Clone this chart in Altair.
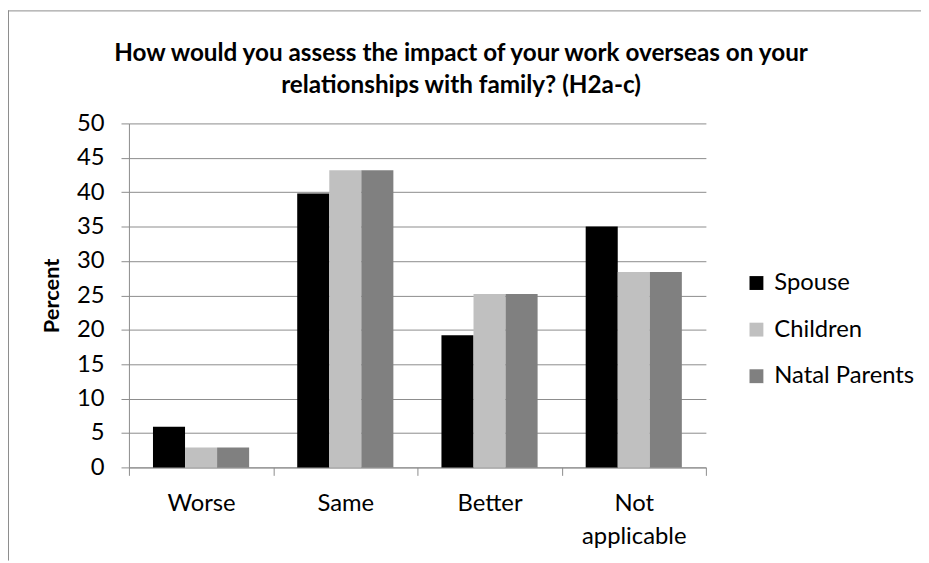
import altair as alt
import pandas as pd

categories = ["Worse", "Same", "Better", "Not applicable"]
series = ["Spouse", "Children", "Natal Parents"]
spouse = [5.9, 39.8, 19.2, 35.0]
children = [2.9, 43.2, 25.2, 28.4]
natal_parents = [2.9, 43.2, 25.2, 28.4]
colors = ["#000000", "#C0C0C0", "#808080"]
y_ticks = [0, 5, 10, 15, 20, 25, 30, 35, 40, 45, 50]
title_lines = ["How would you assess the impact of your work overseas on your",
               "relationships with family? (H2a-c)"]

rows = []
for name, vals in zip(series, [spouse, children, natal_parents]):
    for c, v in zip(categories, vals):
        rows.append({"category": c, "series": name, "value": v})
df = pd.DataFrame(rows)

FONT = "Lato"
GRID = "#8C8C8C"
FS = 24

bars = alt.Chart(df).mark_bar().encode(
    x=alt.X("category:N", sort=categories,
            scale=alt.Scale(paddingInner=0, paddingOuter=0),
            axis=alt.Axis(title=None, labelAngle=0, tickBand="extent", ticks=True,
                          tickSize=8, tickColor=GRID, domainColor=GRID,
                          labelFont=FONT, labelFontSize=FS, labelColor="#000000",
                          labelPadding=16,
                          labelExpr="datum.label == 'Not applicable' ? ['Not', 'applicable'] : datum.label",
                          labelLineHeight=34, grid=False)),
    xOffset=alt.XOffset("series:N", sort=series,
                        scale=alt.Scale(paddingInner=0, paddingOuter=0.75)),
    y=alt.Y("value:Q", scale=alt.Scale(domain=[0, 50], nice=False),
            axis=alt.Axis(title="Percent", values=y_ticks, tickSize=8,
                          tickColor=GRID, domainColor=GRID, gridColor=GRID,
                          grid=True, labelFont=FONT, labelFontSize=FS,
                          labelColor="#000000", labelPadding=17,
                          titleFont=FONT, titleFontSize=22, titleFontWeight="bold",
                          titleColor="#000000", titlePadding=13)),
    color=alt.Color("series:N", sort=series,
                    scale=alt.Scale(domain=series, range=colors),
                    legend=alt.Legend(title=None, orient="none", legendX=621, legendY=149,
                                      symbolType="square", symbolSize=196,
                                      symbolStrokeWidth=0, labelFont=FONT,
                                      labelFontSize=FS, labelColor="#000000",
                                      labelOffset=6, rowPadding=23, padding=0)),
)

one = pd.DataFrame({"a": [0]})
top_border = alt.Chart(one).mark_rule(color=GRID, strokeWidth=1).encode(
    x=alt.value(-122), x2=alt.value(799), y=alt.value(-113.5))
left_border = alt.Chart(one).mark_rule(color=GRID, strokeWidth=1).encode(
    x=alt.value(-121.5), y=alt.value(-114), y2=alt.value(441))

title1 = alt.Chart(one).mark_text(font=FONT, fontSize=24.5, fontWeight="bold",
                                  color="#000000", align="center", baseline="middle").encode(
    x=alt.value(335), y=alt.value(-70), text=alt.value(title_lines[0]))
title2 = alt.Chart(one).mark_text(font=FONT, fontSize=24.5, fontWeight="bold",
                                  color="#000000", align="center", baseline="middle").encode(
    x=alt.value(335), y=alt.value(-38), text=alt.value(title_lines[1]))

chart = alt.layer(bars, top_border, left_border, title1, title2).properties(
    width=582, height=347,
    autosize=alt.AutoSizeParams(type="none"),
    padding={"left": 122, "top": 114, "right": 217, "bottom": 94},
    background="white",
).configure_view(stroke=None)

chart.save("out.html", embed_options={"renderer": "svg", "actions": False})
